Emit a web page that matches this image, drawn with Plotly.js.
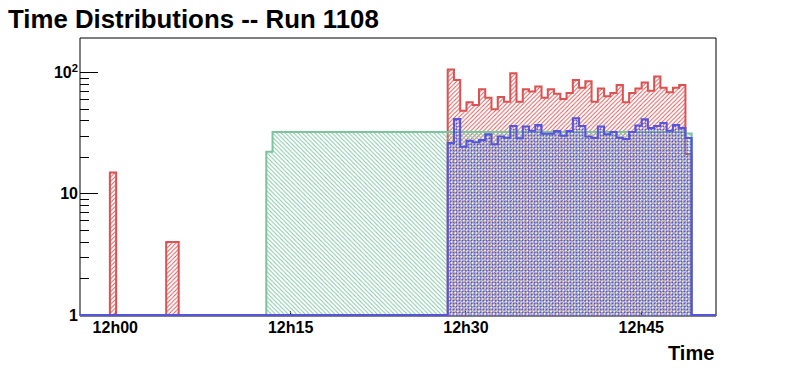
<!DOCTYPE html>
<html>
<head>
<meta charset="utf-8">
<script src="https://cdn.plot.ly/plotly-3.0.1.min.js"></script>
<style>html,body{margin:0;padding:0;background:#fff;}#chart{width:796px;height:372px;}</style>
</head>
<body>
<div id="chart"></div>
<script>
// ---- data ----
const binWidthMin = 0.5352;      // bin width, minutes
const firstEdgeMin = -0.464;     // left edge of bin 0, minutes after 12h00
const xRangeMin = [-3.02, 51.39]; // axis range, minutes after 12h00

const redStartBin = 0;
const redCounts = [15, 0, 0, 0, 0, 0, 0, 0, 0, 4, 4,
  0, 0, 0, 0, 0, 0, 0, 0, 0, 0, 0, 0, 0, 0, 0, 0, 0, 0, 0, 0, 0, 0,
  0, 0, 0, 0, 0, 0, 0, 0, 0, 0, 0, 0, 0, 0, 0, 0, 0, 0, 0, 0, 0,
  106, 87, 48.5, 57, 54, 73, 62, 50, 63, 57.5, 99, 57.5, 73, 70, 77, 62, 73, 67, 60.5, 68,
  87, 75, 85, 57.5, 74, 64, 68, 79, 57, 68, 74, 83, 71, 93, 75, 69, 75, 79, 21.3];

const greenStartBin = 25;
const greenCounts = [22.3,
  32.4, 32.4, 32.4, 32.4, 32.4, 32.4, 32.4, 32.4, 32.4, 32.4, 32.4, 32.4, 32.4, 32.4, 32.4, 32.4,
  32.4, 32.4, 32.4, 32.4, 32.4, 32.4, 32.4, 32.4, 32.4, 32.4, 32.4, 32.4, 32.4, 32.4, 32.4, 32.4,
  32.4, 32.4, 32.4, 32.4, 32.4, 32.4, 32.4, 32.4, 32.4, 32.4, 32.4, 32.4, 32.4, 32.4, 32.4, 32.4,
  32.4, 32.4, 32.4, 32.4, 32.4, 32.4, 32.4, 32.4, 32.4, 32.4, 32.4, 32.4, 32.4, 32.4, 32.4, 32.4,
  32.4, 32.4, 31.5];

const blueStartBin = 54;
const blueCounts = [26.3, 41.4, 24.5, 27.4, 26.6, 27.8, 31.1, 25.6, 29.8, 29, 36.3, 28.7, 36, 33.2,
  37, 31.3, 31.3, 33, 30.2, 33, 42, 36.3, 29.8, 28.9, 36, 31.1, 32.4, 29, 28.3, 32.4, 36.7, 41.2,
  34.9, 36.3, 38.4, 33.2, 37, 34.9, 28.9];

const yTickVals = [1, 10, 100];
const yTickText = ['1', '10', '10<sup>2</sup>'];
const yMinorVals = [2, 3, 4, 5, 6, 7, 8, 9, 20, 30, 40, 50, 60, 70, 80, 90];

// ---- drawing ----
const Y_FLOOR = 1;
const BASE = Date.UTC(2000, 0, 1, 12, 0, 0);
const toMs = m => BASE + m * 60000;
const edgeMs = b => toMs(firstEdgeMin + b * binWidthMin);
const X_MIN = toMs(xRangeMin[0]), X_MAX = toMs(xRangeMin[1]);

function stepTrace(startBin, counts, color, pattern) {
  const xs = [X_MIN], ys = [Y_FLOOR];
  counts.forEach((c, i) => { xs.push(edgeMs(startBin + i)); ys.push(Math.max(c, Y_FLOOR)); });
  xs.push(edgeMs(startBin + counts.length)); ys.push(Y_FLOOR);
  xs.push(X_MAX); ys.push(Y_FLOOR);
  return {
    type: 'scatter', mode: 'lines', x: xs, y: ys,
    line: { shape: 'hv', color: color, width: 2 },
    fill: 'tozeroy', fillcolor: 'rgba(0,0,0,0)',
    fillpattern: Object.assign({ fgcolor: color, bgcolor: 'rgba(0,0,0,0)' }, pattern),
    hoverinfo: 'skip', showlegend: false
  };
}

const RED = '#dc5252', GREEN = '#7cc3a0', BLUE = '#5454dc';
const traces = [
  stepTrace(redStartBin, redCounts, RED, { shape: '/', size: 3, solidity: 0.3 }),
  stepTrace(greenStartBin, greenCounts, GREEN, { shape: '\\', size: 3, solidity: 0.3 }),
  stepTrace(blueStartBin, blueCounts, BLUE, { shape: '.', size: 3, solidity: 0.35 })
];

const FONT = 'Liberation Sans, Arial, sans-serif';
const layout = {
  width: 796, height: 372,
  margin: { l: 80, r: 80, t: 38, b: 56, pad: 0 },
  paper_bgcolor: '#ffffff', plot_bgcolor: '#ffffff',
  showlegend: false,
  title: {
    text: 'Time Distributions -- Run 1108',
    font: { family: FONT, size: 25.8, color: '#000', weight: 'bold' },
    xref: 'container', yref: 'container', x: 8 / 796, xanchor: 'left',
    y: 1 - 19 / 372, yanchor: 'middle'
  },
  xaxis: {
    type: 'date', range: [X_MIN, X_MAX],
    tick0: toMs(0), dtick: 15 * 60000, tickformat: '%Hh%M',
    ticks: 'inside', ticklen: 5, tickcolor: '#000', tickwidth: 1,
    showgrid: false, zeroline: false, showline: false,
    layer: 'below traces',
    tickfont: { family: FONT, size: 16, color: '#000', weight: 'bold' },
    ticklabelstandoff: 0
  },
  yaxis: {
    type: 'log', range: [-0.008, 2.286],
    tickmode: 'array', tickvals: yTickVals, ticktext: yTickText,
    ticks: 'inside', ticklen: 18, tickcolor: '#000', tickwidth: 1,
    minor: { tickmode: 'array', tickvals: yMinorVals, ticks: 'inside', ticklen: 9, tickcolor: '#000', showgrid: false },
    showgrid: false, zeroline: false, showline: false,
    tickfont: { family: FONT, size: 16, color: '#000', weight: 'bold' },
    ticklabelstandoff: 1
  },
  shapes: [{
    type: 'rect', xref: 'paper', yref: 'paper', x0: 0, x1: 1, y0: 0, y1: 1,
    line: { color: '#000', width: 1 }, fillcolor: 'rgba(0,0,0,0)', layer: 'below'
  }],
  annotations: [{
    text: 'Time', xref: 'paper', yref: 'paper', x: 1, xanchor: 'right',
    y: -37 / 278, yanchor: 'middle', showarrow: false,
    font: { family: FONT, size: 20, color: '#000', weight: 'bold' }
  }]
};

Plotly.newPlot('chart', traces, layout, { staticPlot: true, displayModeBar: false });
</script>
</body>
</html>
